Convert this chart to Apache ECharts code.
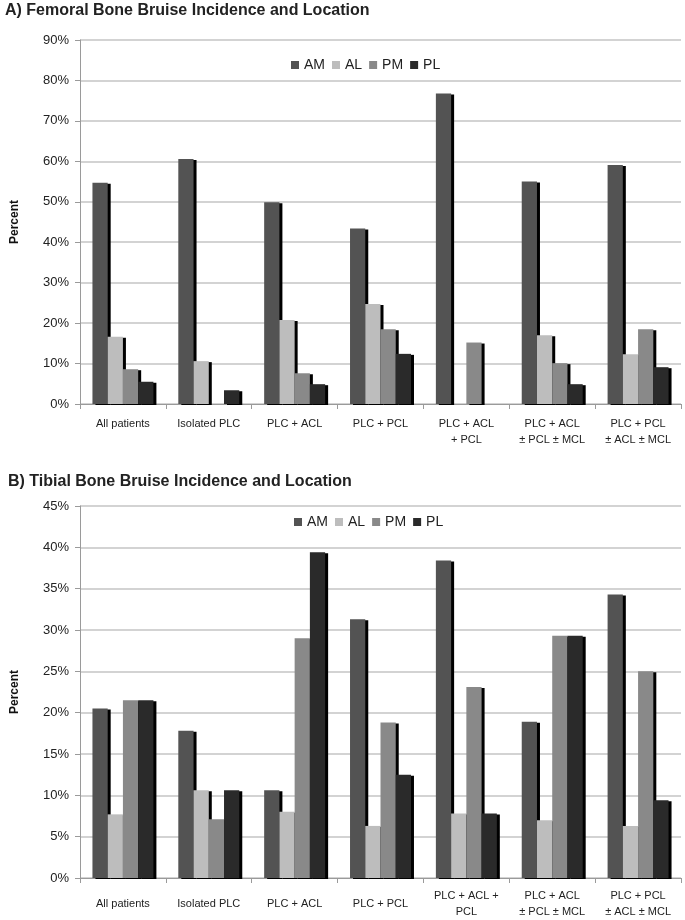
<!DOCTYPE html>
<html>
<head>
<meta charset="utf-8">
<script src="https://cdn.jsdelivr.net/npm/echarts@6/dist/echarts.min.js"></script>
<style>
  html, body { margin: 0; padding: 0; background: #fff; }
  #chart { width: 685px; height: 920px; }
</style>
</head>
<body>
<div id="chart"></div>
<script>
// categories (femoral and tibial panels label the 5th group slightly differently)
const femoralCategories = ['All patients', 'Isolated PLC', 'PLC + ACL', 'PLC + PCL', 'PLC + ACL\n+ PCL', 'PLC + ACL\n± PCL ± MCL', 'PLC + PCL\n± ACL ± MCL']
const tibialCategories = ['All patients', 'Isolated PLC', 'PLC + ACL', 'PLC + PCL', 'PLC + ACL +\nPCL', 'PLC + ACL\n± PCL ± MCL', 'PLC + PCL\n± ACL ± MCL']
const locations = ['AM', 'AL', 'PM', 'PL']

// A) femoral bone bruise, percent
const femoralAM = [54.7, 60.6, 49.9, 43.4, 76.8, 55.0, 59.1]
const femoralAL = [16.6, 10.6, 20.8, 24.7, 0, 17.0, 12.3]
const femoralPM = [8.6, 0, 7.6, 18.5, 15.2, 10.1, 18.5]
const femoralPL = [5.5, 3.4, 4.9, 12.4, 0, 4.9, 9.1]

// B) tibial bone bruise, percent
const tibialAM = [20.5, 17.8, 10.6, 31.3, 38.4, 18.9, 34.3]
const tibialAL = [7.7, 10.6, 8.0, 6.3, 7.8, 7.0, 6.3]
const tibialPM = [21.5, 7.1, 29.0, 18.8, 23.1, 29.3, 25.0]
const tibialPL = [21.5, 10.6, 39.4, 12.5, 7.8, 29.3, 9.4]

const colors = ['#535353', '#bdbdbd', '#898989', '#2a2a2a']
const fontFamily = '"Liberation Sans", Arial, sans-serif'

const chart = echarts.init(document.getElementById('chart'), null, { renderer: 'canvas' })

function xAxisFor(gridIndex, data, valign, margin) {
  return {
    type: 'category',
    gridIndex,
    data,
    axisLine: { lineStyle: { color: '#9a9a9a', width: 1 } },
    axisTick: { show: true, length: 5, lineStyle: { color: '#9a9a9a' } },
    axisLabel: {
      color: '#222',
      fontSize: 11,
      fontFamily,
      lineHeight: 16,
      interval: 0,
      margin,
      verticalAlign: valign
    }
  }
}

function yAxisFor(gridIndex, max, interval) {
  return {
    type: 'value',
    gridIndex,
    min: 0,
    max,
    interval,
    name: 'Percent',
    nameLocation: 'middle',
    nameGap: 59,
    nameTextStyle: { fontSize: 12, fontWeight: 'bold', color: '#111', fontFamily },
    axisLine: { show: true, lineStyle: { color: '#9a9a9a', width: 1 } },
    axisTick: { show: true, length: 5, lineStyle: { color: '#9a9a9a' } },
    axisLabel: { color: '#222', fontSize: 13, fontFamily, margin: 11, formatter: '{value}%' },
    splitLine: { lineStyle: { color: '#c4c4c4', width: 1.5 } }
  }
}

// zero values are simply not drawn in the original
function barSeries(name, values, idx, color) {
  return {
    name,
    type: 'bar',
    xAxisIndex: idx,
    yAxisIndex: idx,
    data: values.map(v => (v === 0 ? null : v)),
    barGap: '0%',
    barCategoryGap: '29%',
    itemStyle: {
      color,
      shadowColor: '#000',
      shadowBlur: 0,
      shadowOffsetX: 3,
      shadowOffsetY: 1
    },
    emphasis: { disabled: true },
    animation: false
  }
}

const legendStyle = {
  itemWidth: 8,
  itemHeight: 8,
  itemGap: 7,
  icon: 'rect',
  textStyle: { fontSize: 14, color: '#222', fontFamily }
}

const option = {
  color: colors,
  animation: false,
  title: [
    {
      text: 'A) Femoral Bone Bruise Incidence and Location',
      left: 0, top: -2,
      textStyle: { fontSize: 16, fontWeight: 'bold', color: '#222', fontFamily }
    },
    {
      text: 'B) Tibial Bone Bruise Incidence and Location',
      left: 3, top: 469,
      textStyle: { fontSize: 16, fontWeight: 'bold', color: '#222', fontFamily }
    }
  ],
  legend: [
    Object.assign({ data: locations, left: 286, top: 53 }, legendStyle),
    Object.assign({ data: locations, left: 289, top: 510 }, legendStyle)
  ],
  grid: [
    { left: 80, right: 4, top: 40, height: 364 },
    { left: 80, right: 4, top: 506, height: 374 }
  ],
  xAxis: [
    xAxisFor(0, femoralCategories, 'top', 12),
    xAxisFor(1, tibialCategories, 'middle', 26)
  ],
  yAxis: [
    yAxisFor(0, 90, 10),
    yAxisFor(1, 45, 5)
  ],
  series: [
    barSeries('AM', femoralAM, 0, colors[0]),
    barSeries('AL', femoralAL, 0, colors[1]),
    barSeries('PM', femoralPM, 0, colors[2]),
    barSeries('PL', femoralPL, 0, colors[3]),
    barSeries('AM', tibialAM, 1, colors[0]),
    barSeries('AL', tibialAL, 1, colors[1]),
    barSeries('PM', tibialPM, 1, colors[2]),
    barSeries('PL', tibialPL, 1, colors[3])
  ]
}

chart.setOption(option)
</script>
</body>
</html>
